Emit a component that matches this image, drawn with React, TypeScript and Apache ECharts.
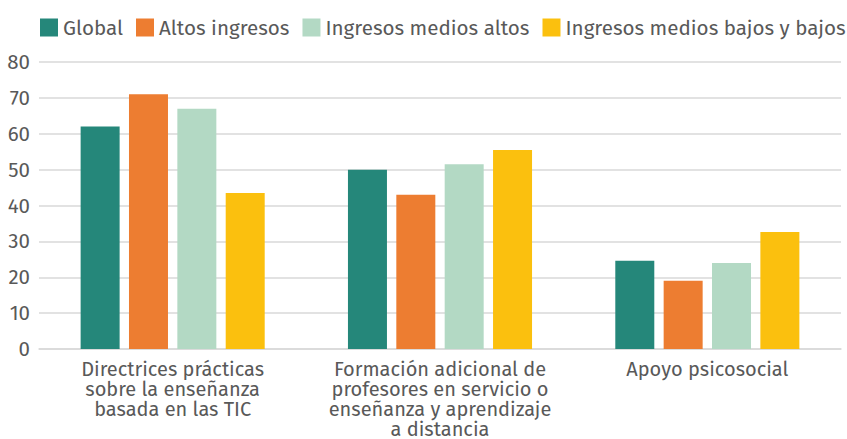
import React, { useEffect, useRef } from "react";
import * as echarts from "echarts";

const categories = [
  "Directrices prácticas\nsobre la enseñanza\nbasada en las TIC",
  "Formación adicional de\nprofesores en servicio o\nenseñanza y aprendizaje\na distancia",
  "Apoyo psicosocial",
];
const seriesNames = ["Global", "Altos ingresos", "Ingresos medios altos", "Ingresos medios bajos y bajos"];
const globalValues = [62, 50, 24.6];
const altosValues = [71, 43, 19];
const mediosAltosValues = [67, 51.5, 24];
const bajosValues = [43.5, 55.5, 32.6];
const colors = ["#25877a", "#ed7d31", "#b3d9c4", "#fbc00e"];
const yTicks = [0, 10, 20, 30, 40, 50, 60, 70, 80];

const FONT = "'Fira Sans', 'Open Sans', 'Noto Sans', sans-serif";
const TEXT = "#595959";

export default function App() {
  const ref = useRef<HTMLDivElement>(null);
  useEffect(() => {
    if (!ref.current) return;
    const chart = echarts.init(ref.current, null, { renderer: "svg" });
    const data = [globalValues, altosValues, mediosAltosValues, bajosValues];
    chart.setOption({
      animation: false,
      textStyle: { fontFamily: FONT },
      legend: {
        left: 40,
        top: 17,
        width: 840,
        padding: 0,
        itemWidth: 18,
        itemHeight: 18,
        itemGap: 13,
        icon: "rect",
        textStyle: { fontSize: 20.6, color: TEXT, fontFamily: FONT },
        data: seriesNames,
      },
      grid: { left: 39, right: 6, top: 62, bottom: 90, containLabel: false },
      xAxis: {
        type: "category",
        data: categories,
        axisTick: { show: false },
        axisLine: { lineStyle: { color: "#d9d9d9", width: 1.5 } },
        axisLabel: {
          fontSize: 20,
          color: TEXT,
          lineHeight: 20,
          margin: 10,
          interval: 0,
          fontFamily: FONT,
        },
      },
      yAxis: {
        type: "value",
        min: yTicks[0],
        max: yTicks[yTicks.length - 1],
        interval: 10,
        axisLabel: { fontSize: 20.5, color: TEXT, margin: 9, fontFamily: FONT },
        splitLine: { lineStyle: { color: "#d9d9d9", width: 1.5 } },
        axisLine: { show: false },
        axisTick: { show: false },
      },
      series: seriesNames.map((name, i) => ({
        name,
        type: "bar",
        data: data[i],
        barWidth: 39,
        barGap: "24%",
        itemStyle: { color: colors[i] },
      })),
    });
    return () => chart.dispose();
  }, []);
  return <div ref={ref} style={{ width: 847, height: 439, position: "absolute", left: 0, top: 0 }} />;
}
